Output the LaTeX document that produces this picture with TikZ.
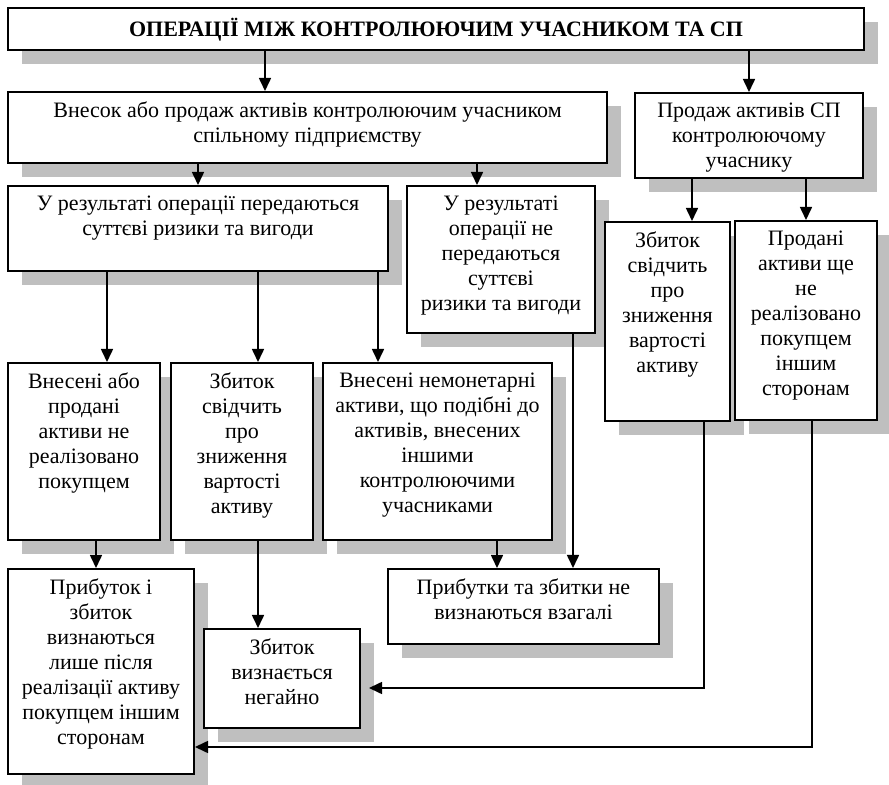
\documentclass[tikz,border=0pt]{standalone}
\usepackage{fontspec}
\setmainfont{Liberation Serif}
\usetikzlibrary{arrows.meta,shadows}

% caixa de texto com altura fixa e texto alinhado no topo: {largura}{altura}{texto}
\newcommand{\caixa}[3]{\parbox[c][#2][t]{#1}{\centering\vspace*{5pt}#3}}

\begin{document}
\begin{tikzpicture}[x=0.5pt,y=-0.5pt, %coordenadas em pixels da figura (y para baixo)
  font=\fontsize{11}{12.5}\selectfont,
  bloco/.style={draw, line width=1pt, fill=white, inner sep=0pt, anchor=north west,
    general shadow={fill=black!25, shadow xshift=7pt, shadow yshift=-7pt}},
  seta/.style={line width=0.8pt, -{Triangle[length=6.5pt,width=6pt]}}]

\useasboundingbox (0,0) rectangle (889,785);

%Os pontos abaixo marcam o canto superior esquerdo de cada bloco (x,y)
\coordinate (A) at (7,7);
\coordinate (B) at (7,91);
\coordinate (C) at (634,92);
\coordinate (D) at (7,185);
\coordinate (E) at (406,185);
\coordinate (F) at (604,221);
\coordinate (G) at (734,220);
\coordinate (H) at (7,362);
\coordinate (I) at (170,362);
\coordinate (J) at (322,362);
\coordinate (K) at (7,568);
\coordinate (L) at (203,628);
\coordinate (M) at (387,568);

%---------------------------------------------------
%Blocos (a sombra cinza vem do estilo "bloco")
%---------------------------------------------------
\node[bloco] (titulo) at (A) {\caixa{428pt}{21pt}{\bfseries ОПЕРАЦІЇ МІЖ КОНТРОЛЮЮЧИМ УЧАСНИКОМ ТА СП}};

\node[bloco] (vnesok) at (B) {\caixa{299.5pt}{35.5pt}{Внесок або продаж активів контролюючим учасником\\ спільному підприємству}};
\node[bloco] (prodazh) at (C) {\caixa{114pt}{42.5pt}{Продаж активів СП\\ контролюючому\\ учаснику}};

\node[bloco] (peredaiut) at (D) {\caixa{190pt}{42.5pt}{У результаті операції передаються\\ суттєві ризики та вигоди}};
\node[bloco] (neperedaiut) at (E) {\caixa{94pt}{73.5pt}{У результаті\\ операції не\\ передаються\\ суттєві\\ ризики та вигоди}};

\node[bloco] (zbytokSP) at (F) {\caixa{62.5pt}{99.5pt}{Збиток\\ свідчить\\ про\\ зниження\\ вартості\\ активу}};
\node[bloco] (prodani) at (G) {\caixa{71pt}{99.5pt}{Продані\\ активи ще\\ не\\ реалізовано\\ покупцем\\ іншим\\ сторонам}};

\node[bloco] (vneseni) at (H) {\caixa{76pt}{88.5pt}{Внесені або\\ продані\\ активи не\\ реалізовано\\ покупцем}};
\node[bloco] (zbytok) at (I) {\caixa{71pt}{88.5pt}{Збиток\\ свідчить\\ про\\ зниження\\ вартості\\ активу}};
\node[bloco] (nemonet) at (J) {\caixa{114.5pt}{88.5pt}{Внесені немонетарні\\ активи, що подібні до\\ активів, внесених\\ іншими\\ контролюючими\\ учасниками}};

\node[bloco] (prybutok) at (K) {\caixa{93pt}{102.5pt}{Прибуток і\\ збиток\\ визнаються\\ лише після\\ реалізації активу\\ покупцем іншим\\ сторонам}};
\node[bloco] (negaino) at (L) {\caixa{78pt}{49.5pt}{Збиток\\ визнається\\ негайно}};
\node[bloco] (vzagali) at (M) {\caixa{135.5pt}{37.5pt}{Прибутки та збитки не\\ визнаються взагалі}};

%---------------------------------------------------
%Setas entre os blocos
%---------------------------------------------------
\draw[seta] ([xshift=-85.5pt]titulo.south) -- ([xshift=-85.5pt]titulo.south |- vnesok.north);
\draw[seta] (titulo.south -| prodazh.north) -- (prodazh.north);

\draw[seta] (vnesok.south -| peredaiut.north) -- (peredaiut.north);
\draw[seta] ([xshift=-12pt]neperedaiut.north |- vnesok.south) -- ([xshift=-12pt]neperedaiut.north);

\draw[seta] ([xshift=12.25pt]zbytokSP.north |- prodazh.south) -- ([xshift=12.25pt]zbytokSP.north);
\draw[seta] (prodazh.south -| prodani.north) -- (prodani.north);

\draw[seta] ([xshift=11.5pt]vneseni.north |- peredaiut.south) -- ([xshift=11.5pt]vneseni.north);
\draw[seta] ([xshift=8pt]zbytok.north |- peredaiut.south) -- ([xshift=8pt]zbytok.north);
\draw[seta] ([xshift=-29.75pt]nemonet.north |- peredaiut.south) -- ([xshift=-29.75pt]nemonet.north);

\draw[seta] ([xshift=6pt]vneseni.south) -- ([xshift=6pt]vneseni.south |- prybutok.north);
\draw[seta] ([xshift=8pt]zbytok.south) -- ([xshift=8pt]zbytok.south |- negaino.north);
\draw[seta] ([xshift=29.75pt]nemonet.south) -- ([xshift=29.75pt]nemonet.south |- vzagali.north);
\draw[seta] ([xshift=36pt]neperedaiut.south) -- ([xshift=36pt]neperedaiut.south |- vzagali.north);

%Setas com cotovelo vindas dos blocos da direita
\draw[seta] ([xshift=18.25pt]zbytokSP.south) |- ([xshift=4pt,yshift=-4.75pt]negaino.east);
\draw[seta] ([xshift=3pt]prodani.south) |- ([yshift=-37.75pt]prybutok.east);

\end{tikzpicture}
\end{document}
